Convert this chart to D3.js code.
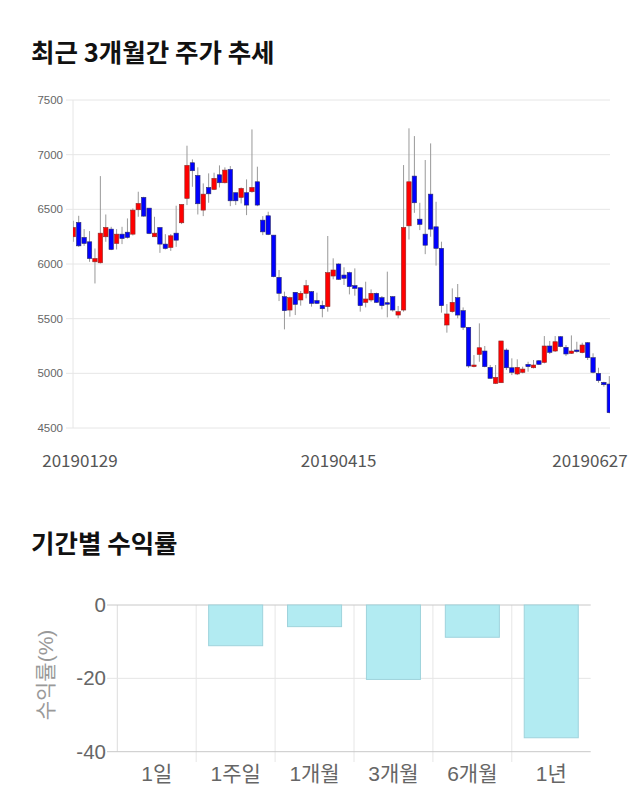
<!DOCTYPE html>
<html><head><meta charset="utf-8">
<script src="https://cdn.jsdelivr.net/npm/d3@7/dist/d3.min.js"></script>
<style>
html,body{margin:0;padding:0;background:#fff;}
svg{display:block;}
</style></head>
<body><svg id="c" width="640" height="810"></svg>
<script>
// ---- candlestick data (3 months) ----
const opens  = [6249,6380,6243,6203,6020,6011,6249,6319,6188,6273,6291,6273,6496,6609,6511,6249,6334,6182,6151,6282,
6377,6600,6926,6810,6493,6700,6682,6816,6743,6865,6652,6609,6652,6661,6752,6401,6441,6264,5878,5701,
5579,5741,5671,5732,5747,5665,5622,5610,5890,6000,5899,5921,5802,5783,5649,5671,5732,5692,5646,5701,
5533,5579,6349,6804,6410,6273,6639,6340,6143,5442,5564,5692,5573,5421,5061,5173,5204,5055,4908,4914,
5213,5051,4994,5009,5082,5051,5115,5100,5250,5204,5335,5238,5183,5213,5189,5280,5143,5000,4917,4902];
const highs  = [6395,6441,6319,6301,6142,6804,6453,6340,6319,6340,6417,6508,6661,6615,6511,6432,6334,6273,6273,6533,
6545,7082,6957,6884,6737,6829,6835,6902,6884,6896,6652,6700,6774,7231,6890,6438,6478,6264,5945,5747,
5701,5741,5753,5854,5753,5738,5665,6256,6052,6006,5970,5930,5960,5783,5838,5768,5738,5707,5930,5707,
5616,6905,7241,7170,6560,6951,7103,6569,6204,5634,5777,5817,5603,5421,5167,5457,5250,5076,5076,5296,
5228,5137,5128,5061,5106,5122,5122,5341,5296,5341,5341,5259,5347,5289,5280,5286,5183,5051,4923,4975];
const lows   = [6203,6157,6166,6020,5822,6005,6203,6127,6133,6182,6233,6261,6432,6432,6273,6249,6102,6133,6120,6157,
6365,6539,6706,6453,6438,6560,6676,6700,6737,6529,6539,6554,6447,6652,6529,6264,6264,5878,5661,5402,
5518,5533,5619,5686,5610,5634,5512,5564,5860,5854,5808,5722,5710,5564,5603,5655,5646,5585,5512,5564,
5503,5564,6224,6468,6310,6090,6249,5985,5555,5372,5555,5503,5396,5051,5055,5106,5055,4954,4902,4914,
5030,4984,4984,5000,5015,5045,5076,5091,5177,5195,5238,5158,5177,5189,5183,5122,5000,4914,4878,4634];
const closes = [6334,6166,6188,6050,6050,6282,6334,6133,6273,6233,6243,6493,6554,6438,6279,6282,6182,6142,6258,6218,
6545,6902,6853,6551,6639,6642,6783,6743,6859,6578,6578,6691,6539,6700,6539,6294,6270,5884,5732,5573,
5692,5631,5732,5802,5640,5640,5591,5921,5945,5860,5869,5793,5777,5619,5680,5732,5649,5619,5640,5579,
5564,6334,6752,6560,6362,6172,6319,6143,5619,5543,5649,5533,5421,5067,5076,5234,5061,4954,4963,5296,
5051,5009,5055,5039,5061,5076,5082,5250,5192,5289,5244,5177,5204,5201,5259,5143,5009,4933,4896,4640];
const priceTicks = [4500,5000,5500,6000,6500,7000,7500];
const dateLabels = ["20190129","20190415","20190627"];
const dateLabelIdx = [0,49,99];

// ---- period returns ----
const periods = ["1일","1주일","1개월","3개월","6개월","1년"];
const returns = [0,-11.1,-5.9,-20.3,-8.8,-36.2];
const returnTicks = [0,-20,-40];

const svg = d3.select("#c");
const KR = "'Noto Sans CJK KR','Noto Sans',sans-serif";
const NUM = "'Liberation Sans',Arial,'Noto Sans CJK KR',sans-serif";

// titles
svg.append("text").attr("x",31).attr("y",62).text("최근 3개월간 주가 추세")
  .attr("font-family",KR).attr("font-weight","bold").attr("font-size",25.5).attr("fill","#111");
svg.append("text").attr("x",31).attr("y",553).text("기간별 수익률")
  .attr("font-family",KR).attr("font-weight","bold").attr("font-size",25.5).attr("fill","#111");

// ---- candlestick chart ----
const L = 73, R = 610, T = 100, B = 428;
const y = d3.scaleLinear().domain([4500,7500]).range([B,T]);
const n = opens.length;
const x = d3.scaleLinear().domain([0,n-1]).range([73.3,609.3]);

const g1 = svg.append("g");
g1.selectAll("line.h").data(priceTicks).join("line")
  .attr("x1",66).attr("x2",R).attr("y1",d=>y(d)).attr("y2",d=>y(d))
  .attr("stroke","#e6e6e6").attr("stroke-width",1);
g1.append("line").attr("x1",L).attr("x2",L).attr("y1",T).attr("y2",B).attr("stroke","#e6e6e6");
g1.selectAll("text.yt").data(priceTicks).join("text")
  .attr("x",63).attr("y",d=>y(d)+4).attr("text-anchor","end")
  .attr("font-family",NUM).attr("font-size",11.5).attr("fill","#666").text(d=>d);

svg.append("clipPath").attr("id","clip").append("rect")
  .attr("x",L).attr("y",T-20).attr("width",R-L).attr("height",B-T+40);
const cg = g1.append("g").attr("clip-path","url(#clip)");
const idx = d3.range(n);
cg.selectAll("line.w").data(idx).join("line")
  .attr("x1",i=>x(i)).attr("x2",i=>x(i))
  .attr("y1",i=>y(highs[i])).attr("y2",i=>y(lows[i]))
  .attr("stroke","#999").attr("stroke-width",1);
cg.selectAll("rect.b").data(idx).join("rect")
  .attr("x",i=>x(i)-2.2).attr("width",4.4)
  .attr("y",i=>y(Math.max(opens[i],closes[i])))
  .attr("height",i=>Math.max(1.5,Math.abs(y(opens[i])-y(closes[i]))))
  .attr("fill",i=>closes[i]>=opens[i]?"#ff0000":"#0000ff")
  .attr("stroke",i=>closes[i]>=opens[i]?"#8a2a2a":"#2a2a6a").attr("stroke-width",0.6);

// date labels, kept inside the canvas
g1.selectAll("text.d").data(dateLabels).join("text")
  .attr("x",(d,k)=>Math.min(590,Math.max(80,x(dateLabelIdx[k]))))
  .attr("y",467).attr("text-anchor","middle")
  .attr("font-family",KR).attr("font-size",17).attr("fill","#555").text(d=>d);

// ---- returns bar chart ----
const bL = 117.3, bR = 590.7;
const yb = d3.scaleLinear().domain([-40,0]).range([751.7,605]);
const xb = d3.scaleBand().domain(periods).range([bL,bR]).padding(0);
const g2 = svg.append("g");
const bounds = periods.map(p=>xb(p)).concat([bR]);
g2.selectAll("line.v").data(bounds.slice(1,6)).join("line")
  .attr("x1",d=>d).attr("x2",d=>d).attr("y1",605).attr("y2",762)
  .attr("stroke","#e6e6e6");
g2.append("line").attr("x1",bL).attr("x2",bL).attr("y1",605).attr("y2",751.7).attr("stroke","#dcdcdc");
g2.selectAll("line.hb").data(returnTicks).join("line")
  .attr("x1",107).attr("x2",bR).attr("y1",d=>yb(d)).attr("y2",d=>yb(d))
  .attr("stroke",d=>d===-20?"#e6e6e6":"#c8c8c8");
g2.selectAll("text.yb").data(returnTicks).join("text")
  .attr("x",106).attr("y",d=>yb(d)+7).attr("text-anchor","end")
  .attr("font-family",NUM).attr("font-size",20.5).attr("fill","#666").text(d=>d);
const bw = xb.bandwidth()*0.685;
g2.selectAll("rect.bar").data(periods).join("rect")
  .attr("x",p=>xb(p)+(xb.bandwidth()-bw)/2).attr("width",bw)
  .attr("y",(p,i)=>yb(Math.max(0,returns[i])))
  .attr("height",(p,i)=>Math.abs(yb(returns[i])-yb(0)))
  .attr("fill","#b2ebf2").attr("stroke","#9fd3dc").attr("stroke-width",1);
g2.selectAll("text.xb").data(periods).join("text")
  .attr("x",p=>xb(p)+xb.bandwidth()/2).attr("y",781).attr("text-anchor","middle")
  .attr("font-family",NUM).attr("font-size",21).attr("fill","#666").text(p=>p);
g2.append("text").attr("transform","translate(53,675) rotate(-90)")
  .attr("text-anchor","middle").attr("font-family",NUM).attr("font-size",21)
  .attr("fill","#999").text("수익률(%)");
</script></body></html>
